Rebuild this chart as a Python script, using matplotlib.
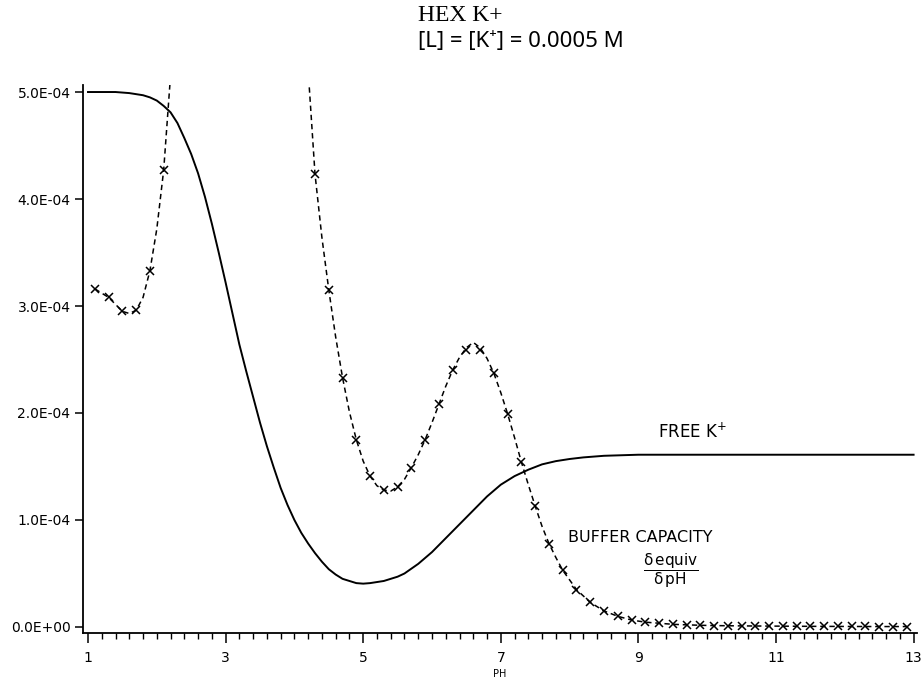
import numpy as np
import matplotlib
matplotlib.use("Agg")
import matplotlib.pyplot as plt
from matplotlib.ticker import FixedLocator, FixedFormatter, MultipleLocator

plt.rcParams["mathtext.fontset"] = "dejavusans"

# free K+ (units of 1e-4 M)
ph_free = [1.0, 1.2, 1.4, 1.6, 1.8, 1.9, 2.0, 2.1, 2.2, 2.3, 2.4, 2.5, 2.6, 2.7,
           2.8, 2.9, 3.0, 3.1, 3.2, 3.3, 3.4, 3.5, 3.6, 3.7, 3.8, 3.9, 4.0, 4.1,
           4.2, 4.3, 4.4, 4.5, 4.6, 4.7, 4.8, 4.9, 5.0, 5.1, 5.2, 5.3, 5.4, 5.5,
           5.6, 5.8, 6.0, 6.2, 6.4, 6.6, 6.8, 7.0, 7.2, 7.4, 7.6, 7.8, 8.0, 8.2,
           8.5, 9.0, 10.0, 11.0, 12.0, 13.0]
free_k = [5.00, 5.00, 5.00, 4.99, 4.97, 4.95, 4.92, 4.87, 4.81, 4.71, 4.57, 4.42,
          4.24, 4.02, 3.77, 3.50, 3.22, 2.93, 2.64, 2.39, 2.15, 1.91, 1.69, 1.49,
          1.30, 1.14, 1.00, 0.88, 0.78, 0.69, 0.61, 0.54, 0.49, 0.45, 0.43, 0.41,
          0.405, 0.41, 0.42, 0.43, 0.45, 0.47, 0.50, 0.59, 0.70, 0.83, 0.96, 1.09,
          1.22, 1.33, 1.41, 1.47, 1.52, 1.55, 1.57, 1.585, 1.60, 1.61, 1.61, 1.61,
          1.61, 1.61]

# buffer capacity markers (x), every 0.2 pH
ph_mark = [1.1, 1.3, 1.5, 1.7, 1.9, 2.1,
           4.3, 4.5, 4.7, 4.9, 5.1, 5.3, 5.5, 5.7, 5.9, 6.1, 6.3, 6.5, 6.7, 6.9,
           7.1, 7.3, 7.5, 7.7, 7.9, 8.1, 8.3, 8.5, 8.7, 8.9, 9.1, 9.3, 9.5, 9.7,
           9.9, 10.1, 10.3, 10.5, 10.7, 10.9, 11.1, 11.3, 11.5, 11.7, 11.9, 12.1,
           12.3, 12.5, 12.7, 12.9]
buf_mark = [3.16, 3.08, 2.95, 2.96, 3.33, 4.27,
            4.23, 3.15, 2.33, 1.75, 1.41, 1.28, 1.31, 1.49, 1.75, 2.08, 2.40, 2.59,
            2.59, 2.37, 1.99, 1.54, 1.13, 0.78, 0.53, 0.35, 0.23, 0.15, 0.10, 0.065,
            0.045, 0.035, 0.025, 0.02, 0.016, 0.013, 0.011, 0.01, 0.009, 0.008,
            0.007, 0.007, 0.006, 0.006, 0.005, 0.005, 0.005, 0.004, 0.004, 0.004]

# dashed line: markers plus the turning points and the off-scale ends
ph_line_a = [1.1, 1.3, 1.5, 1.6, 1.7, 1.8, 1.9, 2.0, 2.1, 2.25]
buf_line_a = [3.16, 3.08, 2.95, 2.93, 2.96, 3.08, 3.33, 3.72, 4.27, 5.6]
ph_line_b = [4.19, 4.3, 4.4, 4.5, 4.6, 4.7, 4.8, 4.9, 5.0, 5.1, 5.2, 5.3, 5.4,
             5.5, 5.6, 5.7, 5.8, 5.9, 6.0, 6.1, 6.2, 6.3, 6.4, 6.5, 6.6, 6.7,
             6.8, 6.9, 7.0, 7.1, 7.2, 7.3, 7.4, 7.5, 7.6, 7.7, 7.8, 7.9, 8.1,
             8.3, 8.5, 8.7, 8.9, 9.1, 9.3, 9.5, 9.7, 9.9, 10.1, 10.5, 11.0,
             11.5, 12.0, 12.5, 12.9]
buf_line_b = [5.3, 4.23, 3.64, 3.15, 2.71, 2.33, 2.01, 1.75, 1.55, 1.41, 1.32,
              1.28, 1.27, 1.31, 1.38, 1.49, 1.61, 1.75, 1.91, 2.08, 2.25, 2.40,
              2.52, 2.61, 2.66, 2.61, 2.51, 2.37, 2.19, 1.99, 1.77, 1.54, 1.33,
              1.13, 0.94, 0.78, 0.65, 0.53, 0.35, 0.23, 0.15, 0.10, 0.065, 0.045,
              0.035, 0.025, 0.02, 0.016, 0.013, 0.01, 0.008, 0.006, 0.005, 0.004,
              0.004]

y_ticks = [0, 1e-4, 2e-4, 3e-4, 4e-4, 5e-4]
y_labels = ["0.0E+00", "1.0E-04", "2.0E-04", "3.0E-04", "4.0E-04", "5.0E-04"]
x_ticks = [1, 3, 5, 7, 9, 11, 13]

s = 1e-4
fig = plt.figure(figsize=(9.22, 6.86), dpi=100)
ax = fig.add_axes([0.090, 0.0773, 0.9046, 0.7987])

ax.plot(ph_free, np.array(free_k) * s, color="black", lw=1.4)
ax.plot(ph_line_a, np.array(buf_line_a) * s, color="black", lw=1.1,
        dashes=(3.5, 2.5))
ax.plot(ph_line_b, np.array(buf_line_b) * s, color="black", lw=1.1,
        dashes=(3.5, 2.5))
ax.plot(ph_mark, np.array(buf_mark) * s, ls="none", marker="x", ms=6,
        mew=1.1, color="black")

ax.set_xlim(0.927, 13.05)
ax.set_ylim(-0.056e-4, 5.065e-4)

for side in ["top", "right"]:
    ax.spines[side].set_visible(False)
ax.spines["left"].set_linewidth(1.3)
ax.spines["bottom"].set_linewidth(1.3)

ax.xaxis.set_major_locator(FixedLocator(x_ticks))
ax.xaxis.set_minor_locator(MultipleLocator(0.2))
ax.yaxis.set_major_locator(FixedLocator(y_ticks))
ax.yaxis.set_major_formatter(FixedFormatter(y_labels))
ax.tick_params(axis="x", which="major", direction="out", length=7, width=1.1,
               labelsize=10, pad=6)
ax.tick_params(axis="x", which="minor", direction="out", length=4, width=1.0)
ax.tick_params(axis="y", which="major", direction="out", length=6, width=1.1,
               labelsize=10, pad=3)

ax.set_xlabel("PH", fontsize=7, labelpad=3)

ax.text(9.28, 1.82e-4, "FREE K$^{+}$", fontsize=12, ha="left", va="center")
ax.text(7.98, 0.84e-4, "BUFFER CAPACITY", fontsize=11.5, ha="left", va="center")
ax.text(9.47, 0.53e-4, r"$\dfrac{\mathrm{\delta\,equiv}}{\mathrm{\delta\,pH}}$",
        fontsize=11, ha="center", va="center")

fig.text(0.453, 0.978, "HEX K+", fontsize=17, family="Liberation Serif",
         ha="left", va="center")
fig.text(0.453, 0.939, "[L] = [K⁺] = 0.0005 M", fontsize=16,
         family=["Noto Sans", "DejaVu Sans"], ha="left", va="center")

fig.savefig("out.png", dpi=100)
